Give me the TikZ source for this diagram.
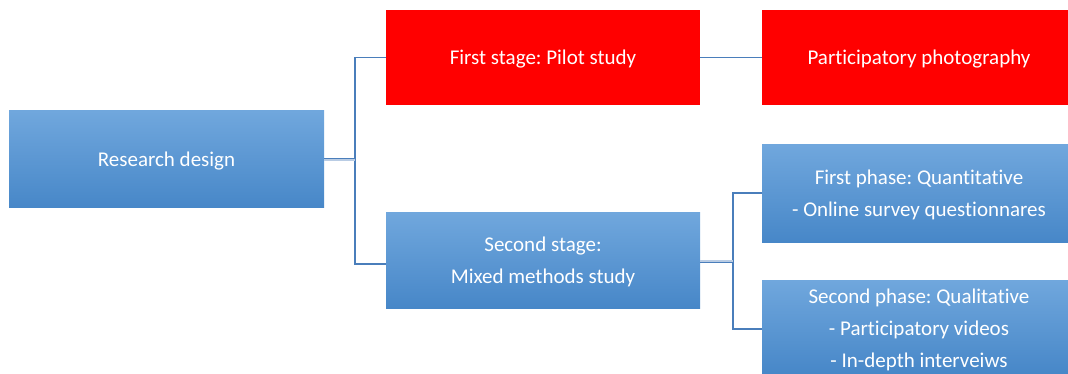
\documentclass[tikz,border=0pt]{standalone}
\usepackage{fontspec}
\setmainfont{Carlito}[Ligatures=NoCommon]
\frenchspacing
\definecolor{btop}{HTML}{70A7DD}
\definecolor{bbot}{HTML}{4787C8}
\definecolor{lnc}{HTML}{4A7EBB}
\definecolor{lnl}{HTML}{B9CCE4}
\begin{document}
\begin{tikzpicture}[x=1pt,y=-1pt,
  blubox/.style={shade, top color=btop, bottom color=bbot, draw=none},
  redbox/.style={fill=red, draw=none},
  lbl/.style={text=white, inner sep=0pt, align=center, font=\fontsize{21}{32}\selectfont\frenchspacing},
  conn/.style={draw=lnc, line width=1.3pt},
  dconn/.style={draw=lnc, line width=0.7pt, double=lnl, double distance=1.6pt}]
\useasboundingbox (0,0) rectangle (1068,374);
\path[blubox] (9,111) rectangle (324,208);
\node[lbl] (rd) at (166.5,161.5) {Research design};
\coordinate (rdE) at (324,160);
\path[redbox] (386,10) rectangle (700,105);
\node[lbl] (fs) at (543,59.5) {First stage: Pilot study};
\coordinate (fsW) at (386,57.5);
\coordinate (fsE) at (700,57.5);
\path[redbox] (762,10) rectangle (1068,105);
\node[lbl] (pp) at (919,59.5) {Participatory photography};
\coordinate (ppW) at (762,57.5);
\path[blubox] (386,213) rectangle (700,308);
\node[lbl] (ss) at (543,262) {Second stage:\\Mixed methods study};
\coordinate (ssW) at (386,264);
\coordinate (ssE) at (700,261);
\path[blubox] (762,145) rectangle (1068,242);
\node[lbl] (fp) at (919,195) {First phase: Quantitative\\- Online survey questionnares};
\coordinate (fpW) at (762,193);
\path[blubox] (762,280) rectangle (1068,374);
\node[lbl] (sp) at (919,330) {Second phase: Qualitative\\- Participatory videos\\- In-depth interveiws};
\coordinate (spW) at (762,329);
% connectors
\coordinate (j1) at (355,160);
\draw[conn] (fsW) -| (j1) |- (ssW);
\draw[dconn] (rdE) -- (j1);
\draw[conn] (fsE) -- (ppW);
\coordinate (j2) at (733,261);
\draw[conn] (fpW) -| (j2) |- (spW);
\draw[dconn] (ssE) -- (j2);
\end{tikzpicture}
\end{document}
